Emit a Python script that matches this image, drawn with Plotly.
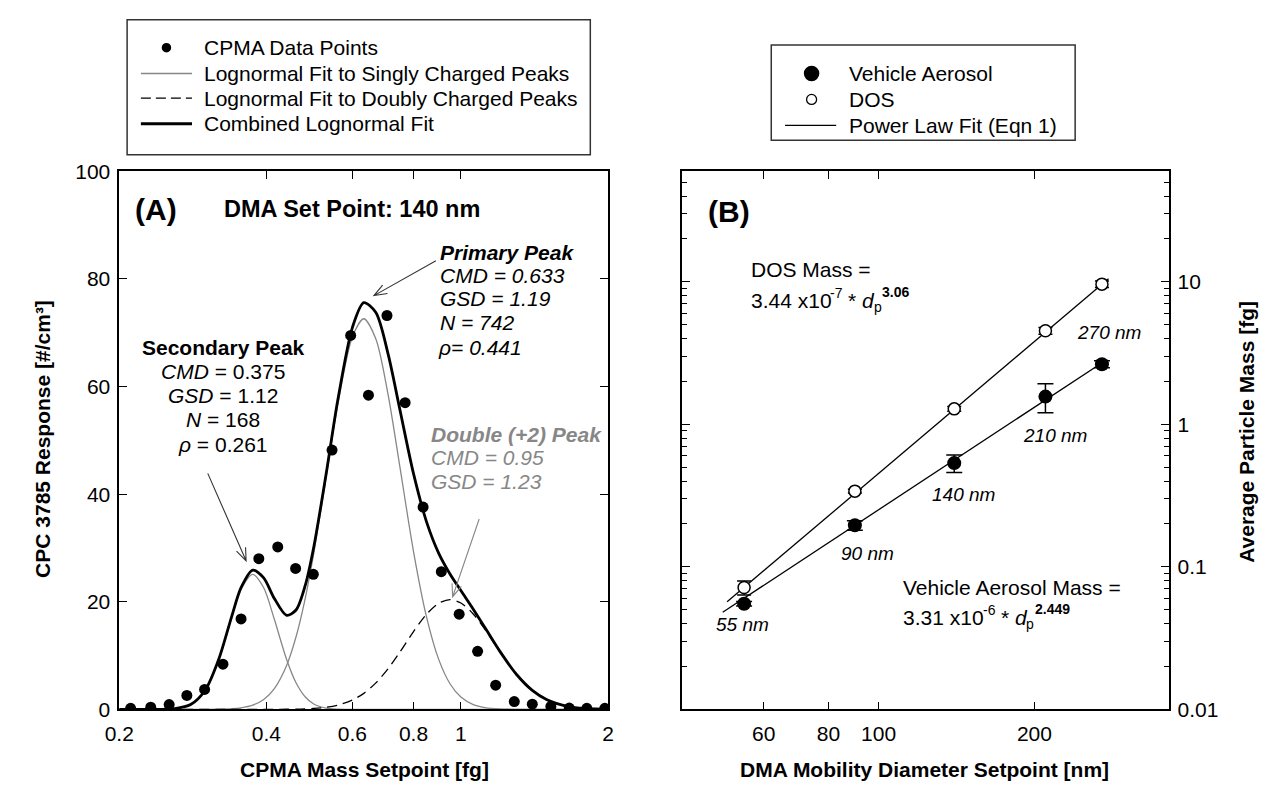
import math
import plotly.graph_objects as go

W, H = 1268, 801

# ---------------- Panel A data ----------------
cpma_mass = [0.211, 0.232, 0.253, 0.275, 0.299, 0.326, 0.355, 0.386, 0.422, 0.459,
             0.499, 0.545, 0.595, 0.647, 0.706, 0.769, 0.837, 0.912, 0.992, 1.082,
             1.178, 1.286, 1.40, 1.528, 1.666, 1.81, 1.97]
cpc_response = [0.2, 0.4, 0.9, 2.6, 3.7, 8.4, 16.8, 28.0, 30.2, 26.2,
                25.1, 48.2, 69.5, 58.4, 73.2, 57.0, 37.6, 25.6, 17.7, 10.8,
                4.5, 1.45, 0.96, 0.54, 0.24, 0.2, 0.2]

fit_mass = [0.20, 0.22, 0.24, 0.26, 0.28, 0.30, 0.32, 0.34, 0.355, 0.375,
            0.395, 0.415, 0.44, 0.46, 0.48, 0.50, 0.53, 0.56, 0.60, 0.633,
            0.67, 0.71, 0.75, 0.80, 0.85, 0.90, 0.95, 1.00, 1.06, 1.12,
            1.20, 1.30, 1.40, 1.50, 1.65, 1.80, 2.00]
fit_secondary = [0, 0, 0.01, 0.14, 0.90, 3.60, 9.42, 17.27, 22.33, 25.10,
                 22.60, 16.83, 9.28, 4.94, 2.34, 1.00, 0.24, 0.05, 0.01, 0,
                 0, 0, 0, 0, 0, 0, 0, 0, 0, 0,
                 0, 0, 0, 0, 0, 0, 0]
fit_primary = [0, 0, 0, 0, 0, 0.01, 0.03, 0.12, 0.29, 0.79,
               1.84, 3.82, 8.17, 13.49, 20.51, 28.98, 43.12, 56.66, 69.25, 72.60,
               68.83, 58.40, 45.15, 29.34, 17.29, 9.39, 4.77, 2.30, 0.90, 0.34,
               0.08, 0.01, 0, 0, 0, 0, 0]
fit_double = [0, 0, 0, 0, 0, 0, 0, 0, 0, 0,
              0, 0.01, 0.02, 0.04, 0.09, 0.17, 0.38, 0.78, 1.74, 2.98,
              4.92, 7.58, 10.63, 14.46, 17.66, 19.71, 20.40, 19.78, 17.73, 14.87,
              10.79, 6.47, 3.53, 1.79, 0.58, 0.17, 0.03]
fit_combined = [0, 0, 0.01, 0.14, 0.90, 3.61, 9.45, 17.39, 22.62, 25.89,
                24.44, 20.66, 17.47, 18.47, 22.94, 30.15, 43.74, 57.49, 71.00, 75.58,
                73.75, 65.98, 55.78, 43.80, 34.95, 29.10, 25.17, 22.08, 18.63, 15.21,
                10.87, 6.48, 3.53, 1.79, 0.58, 0.17, 0.03]

a_xticks = [0.2, 0.4, 0.6, 0.8, 1, 2]
a_xticktext = ["0.2", "0.4", "0.6", "0.8", "1", "2"]
a_yticks = [0, 20, 40, 60, 80, 100]
legend_a = ["CPMA Data Points", "Lognormal Fit to Singly Charged Peaks",
            "Lognormal Fit to Doubly Charged Peaks", "Combined Lognormal Fit"]

# ---------------- Panel B data ----------------
mobility_dp = [55, 90, 140, 210, 270]
vehicle_mass = [0.0551, 0.196, 0.535, 1.567, 2.645]
vehicle_err = [0.002, 0.015, 0.075, 0.36, 0.15]
dos_mass = [0.0716, 0.340, 1.285, 4.54, 9.64]
dos_err = [0.008, 0.01, 0.05, 0.25, 0.5]
size_labels = ["55 nm", "90 nm", "140 nm", "210 nm", "270 nm"]

dos_fit_dp = [51, 278]
dos_fit_mass = [0.057, 10.5]
veh_fit_dp = [50, 272]
veh_fit_mass = [0.048, 2.75]

b_xticks = [60, 80, 100, 200]
b_xticktext = ["60", "80", "100", "200"]
b_yticks = [0.01, 0.1, 1, 10]
b_yticktext = ["0.01", "0.1", "1", "10"]
b_yminor = [m * d for d in (0.01, 0.1, 1, 10) for m in range(2, 10) if m * d < 60]
legend_b = ["Vehicle Aerosol", "DOS", "Power Law Fit (Eqn 1)"]

FONT = "Liberation Sans, Arial, sans-serif"
GRAY = "rgb(135,135,135)"
FS = 21

fig = go.Figure()

# ---- Panel A traces ----
fig.add_trace(go.Scatter(x=fit_mass, y=fit_secondary, mode="lines", xaxis="x", yaxis="y",
                         line=dict(color=GRAY, width=1.3, shape="spline", smoothing=0.8),
                         name=legend_a[1], showlegend=False))
fig.add_trace(go.Scatter(x=fit_mass, y=fit_primary, mode="lines", xaxis="x", yaxis="y",
                         line=dict(color=GRAY, width=1.3, shape="spline", smoothing=0.8),
                         name=legend_a[1], showlegend=False))
fig.add_trace(go.Scatter(x=fit_mass, y=fit_double, mode="lines", xaxis="x", yaxis="y",
                         line=dict(color="black", width=1.3, dash="10px,6px", shape="spline",
                                   smoothing=0.8),
                         name=legend_a[2], showlegend=False))
fig.add_trace(go.Scatter(x=fit_mass, y=fit_combined, mode="lines", xaxis="x", yaxis="y",
                         line=dict(color="black", width=2.8, shape="spline", smoothing=0.8),
                         name=legend_a[3], showlegend=False))
fig.add_trace(go.Scatter(x=cpma_mass, y=cpc_response, mode="markers", xaxis="x", yaxis="y",
                         marker=dict(color="black", size=11), name=legend_a[0],
                         showlegend=False))

# ---- Panel B traces ----
fig.add_trace(go.Scatter(x=dos_fit_dp, y=dos_fit_mass, mode="lines", xaxis="x2", yaxis="y2",
                         line=dict(color="black", width=1.3), name=legend_b[2],
                         showlegend=False))
fig.add_trace(go.Scatter(x=veh_fit_dp, y=veh_fit_mass, mode="lines", xaxis="x2", yaxis="y2",
                         line=dict(color="black", width=1.3), name=legend_b[2],
                         showlegend=False))
fig.add_trace(go.Scatter(x=mobility_dp, y=vehicle_mass, mode="markers", xaxis="x2", yaxis="y2",
                         marker=dict(color="black", size=14),
                         error_y=dict(type="data", array=vehicle_err, color="black",
                                      thickness=1.5, width=8),
                         name=legend_b[0], showlegend=False))
fig.add_trace(go.Scatter(x=mobility_dp, y=dos_mass, mode="markers", xaxis="x2", yaxis="y2",
                         marker=dict(color="white", size=12, line=dict(color="black", width=1.5)),
                         error_y=dict(type="data", array=dos_err, color="black",
                                      thickness=1.5, width=7),
                         name=legend_b[1], showlegend=False))

axis_common = dict(showline=True, linecolor="black", linewidth=1.5, mirror="ticks",
                   ticks="inside", ticklen=8, tickwidth=1.3, tickcolor="black",
                   showgrid=False, zeroline=False,
                   tickfont=dict(family=FONT, size=FS, color="black"))


def px2paper(px, py):
    return px / W, 1 - py / H


ya0, ya1 = 1 - 718 / H, 1 - 164 / H

fig.update_layout(
    width=W, height=H,
    margin=dict(l=0, r=0, t=0, b=0),
    paper_bgcolor="white", plot_bgcolor="white",
    font=dict(family=FONT, size=FS, color="black"),
    showlegend=False,
    xaxis=dict(axis_common, type="log", domain=[106 / W, 603 / W], anchor="y",
               range=[-0.69897, 0.30103], tickvals=a_xticks, ticktext=a_xticktext,
               ticklabelstandoff=5),
    yaxis=dict(axis_common, domain=[ya0, ya1], anchor="x", range=[0, 100],
               tickvals=a_yticks, ticklabelstandoff=3),
    xaxis2=dict(axis_common, type="log", domain=[678 / W, 1173 / W], anchor="y2",
                range=[1.62, 2.56], tickvals=b_xticks, ticktext=b_xticktext,
                ticklabelstandoff=5),
    yaxis2=dict(axis_common, type="log", domain=[ya0, ya1], anchor="x2", side="right",
                range=[-2, 1.776], tickvals=b_yticks, ticktext=b_yticktext,
                ticklabelstandoff=3,
                minor=dict(ticks="inside", ticklen=5, tickcolor="black", tickwidth=1.2,
                           tickvals=b_yminor)),
)

shapes = []
annotations = []


def rect(x0p, y0p, x1p, y1p):
    x0, y1 = px2paper(x0p, y0p)
    x1, y0 = px2paper(x1p, y1p)
    shapes.append(dict(type="rect", xref="paper", yref="paper", x0=x0, x1=x1, y0=y0, y1=y1,
                       line=dict(color="#333", width=1.5)))


def hline(x0p, x1p, yp, color="black", width=1.3, dash="solid"):
    x0, y = px2paper(x0p, yp)
    x1, _ = px2paper(x1p, yp)
    shapes.append(dict(type="line", xref="paper", yref="paper", x0=x0, x1=x1, y0=y, y1=y,
                       line=dict(color=color, width=width, dash=dash)))


def dot(cx, cy, d, fill="black", lw=1.5):
    x, y = px2paper(cx, cy)
    r = d / 2
    shapes.append(dict(type="circle", xref="paper", yref="paper", xsizemode="pixel",
                       ysizemode="pixel", xanchor=x, yanchor=y, x0=-r, x1=r, y0=-r, y1=r,
                       fillcolor=fill, line=dict(color="black", width=lw)))


def text_at(px, py, text, size=FS, xanchor="center", color="black", textangle=0):
    x, y = px2paper(px, py)
    annotations.append(dict(x=x, y=y, xref="paper", yref="paper", text=text,
                            showarrow=False, xanchor=xanchor, yanchor="middle",
                            textangle=textangle, borderpad=0, borderwidth=0,
                            font=dict(family=FONT, size=size, color=color)))


def arrow(tail, head, color="#333", length=13, half=5):
    dx, dy = head[0] - tail[0], head[1] - tail[1]
    n = math.hypot(dx, dy)
    ux, uy = dx / n, dy / n
    bx, by = head[0] - ux * length, head[1] - uy * length
    w1 = (bx - uy * half, by + ux * half)
    w2 = (bx + uy * half, by - ux * half)
    pts = [px2paper(*p) for p in (tail, head, w1, w2)]
    path = "M {0[0]},{0[1]} L {1[0]},{1[1]} M {2[0]},{2[1]} L {1[0]},{1[1]} L {3[0]},{3[1]}".format(*pts)
    shapes.append(dict(type="path", xref="paper", yref="paper", path=path,
                       line=dict(color=color, width=1.1)))


def power_law_text(x0, yc, coef, expo10, expo):
    # "coef x10^expo10 * d_p^expo" assembled from pieces (Arial metrics, 1/1000 em)
    em = FS / 1000.0
    small = 14
    sem = small / 1000.0
    text_at(x0, yc, coef + " x10", xanchor="left")
    x = x0 + (556 * 5 + 278 + 278 + 500) * em
    text_at(x + 0.5, yc - 7.5, expo10, size=small, xanchor="left")
    x += (333 + 556) * sem + 0.5 + 278 * em
    text_at(x, yc, "* <i>d</i>", xanchor="left")
    x += (389 + 278 + 556) * em
    text_at(x + 0.5, yc + 7, "p", size=small, xanchor="left")
    x += 556 * sem + 1
    text_at(x, yc - 8.5, "<b>" + expo + "</b>", size=small, xanchor="left")


# ---- Legend A (drawn) ----
rect(114, 8, 585, 147)
leg_a_y = [36.7, 63.3, 88.7, 115]
dot(154, leg_a_y[0], 8)
hline(128, 180, leg_a_y[1], color=GRAY, width=1.3)
hline(128, 180, leg_a_y[2], color="black", width=1.3, dash="10px,5px")
hline(128, 180, leg_a_y[3], color="black", width=3)
for yy, name in zip(leg_a_y, legend_a):
    text_at(192, yy, name, xanchor="left")

# ---- Legend B (drawn) ----
rect(769, 34, 1078, 132)
leg_b_y = [63.3, 90, 116.7]
dot(810, leg_b_y[0], 14)
dot(810, leg_b_y[1], 10, fill="white", lw=1.3)
hline(783, 835, leg_b_y[2], color="black", width=1.3)
for yy, name in zip(leg_b_y, legend_b):
    text_at(848, yy, name, xanchor="left")

# ---- Panel A texts ----
text_at(143, 203, "<b>(A)</b>", size=30)
text_at(213, 203, "<b>DMA Set Point: 140 nm</b>", size=23.5, xanchor="left")
text_at(212, 345, "<b>Secondary Peak</b>")
text_at(212, 370, "<i>CMD</i> = 0.375")
text_at(212, 395, "<i>GSD</i> = 1.12")
text_at(212, 420, "<i>N</i> = 168")
text_at(212, 445, "<i>ρ</i> = 0.261")
text_at(432, 248, "<b><i>Primary Peak</i></b>", xanchor="left")
text_at(432, 271, "<i>CMD = 0.633</i>", xanchor="left")
text_at(432, 295, "<i>GSD = 1.19</i>", xanchor="left")
text_at(432, 320, "<i>N = 742</i>", xanchor="left")
text_at(430, 345, "<i>ρ= 0.441</i>", xanchor="left")
text_at(423, 435, "<b><i>Double (+2) Peak</i></b>", xanchor="left", color=GRAY)
text_at(423, 459, "<i>CMD = 0.95</i>", xanchor="left", color=GRAY)
text_at(423, 483, "<i>GSD = 1.23</i>", xanchor="left", color=GRAY)
arrow((196, 475), (235, 565))
arrow((428, 256), (365, 292))
arrow((472, 522), (445, 602), color=GRAY)

text_at(28, 440, "<b>CPC 3785 Response [#/cm³]</b>", textangle=-90)
text_at(355, 780, "<b>CPMA Mass Setpoint [fg]</b>")

# ---- Panel B texts ----
text_at(726, 205, "<b>(B)</b>", size=30)
text_at(748, 265, "DOS Mass =", xanchor="left")
power_law_text(748, 297, "3.44", "-7", "3.06")
text_at(903, 592, "Vehicle Aerosol Mass =", xanchor="left")
power_law_text(903, 623, "3.31", "-6", "2.449")
label_pos = [(740, 631), (867, 557), (964, 497), (1058, 436), (1112, 330)]
for (lx, ly), lab in zip(label_pos, size_labels):
    text_at(lx, ly, "<i>" + lab + "</i>", size=19)

text_at(1252, 432, "<b>Average Particle Mass [fg]</b>", textangle=-90)
text_at(925, 780, "<b>DMA Mobility Diameter Setpoint [nm]</b>")

fig.update_layout(shapes=shapes, annotations=annotations)

fig.write_html("out.html")
